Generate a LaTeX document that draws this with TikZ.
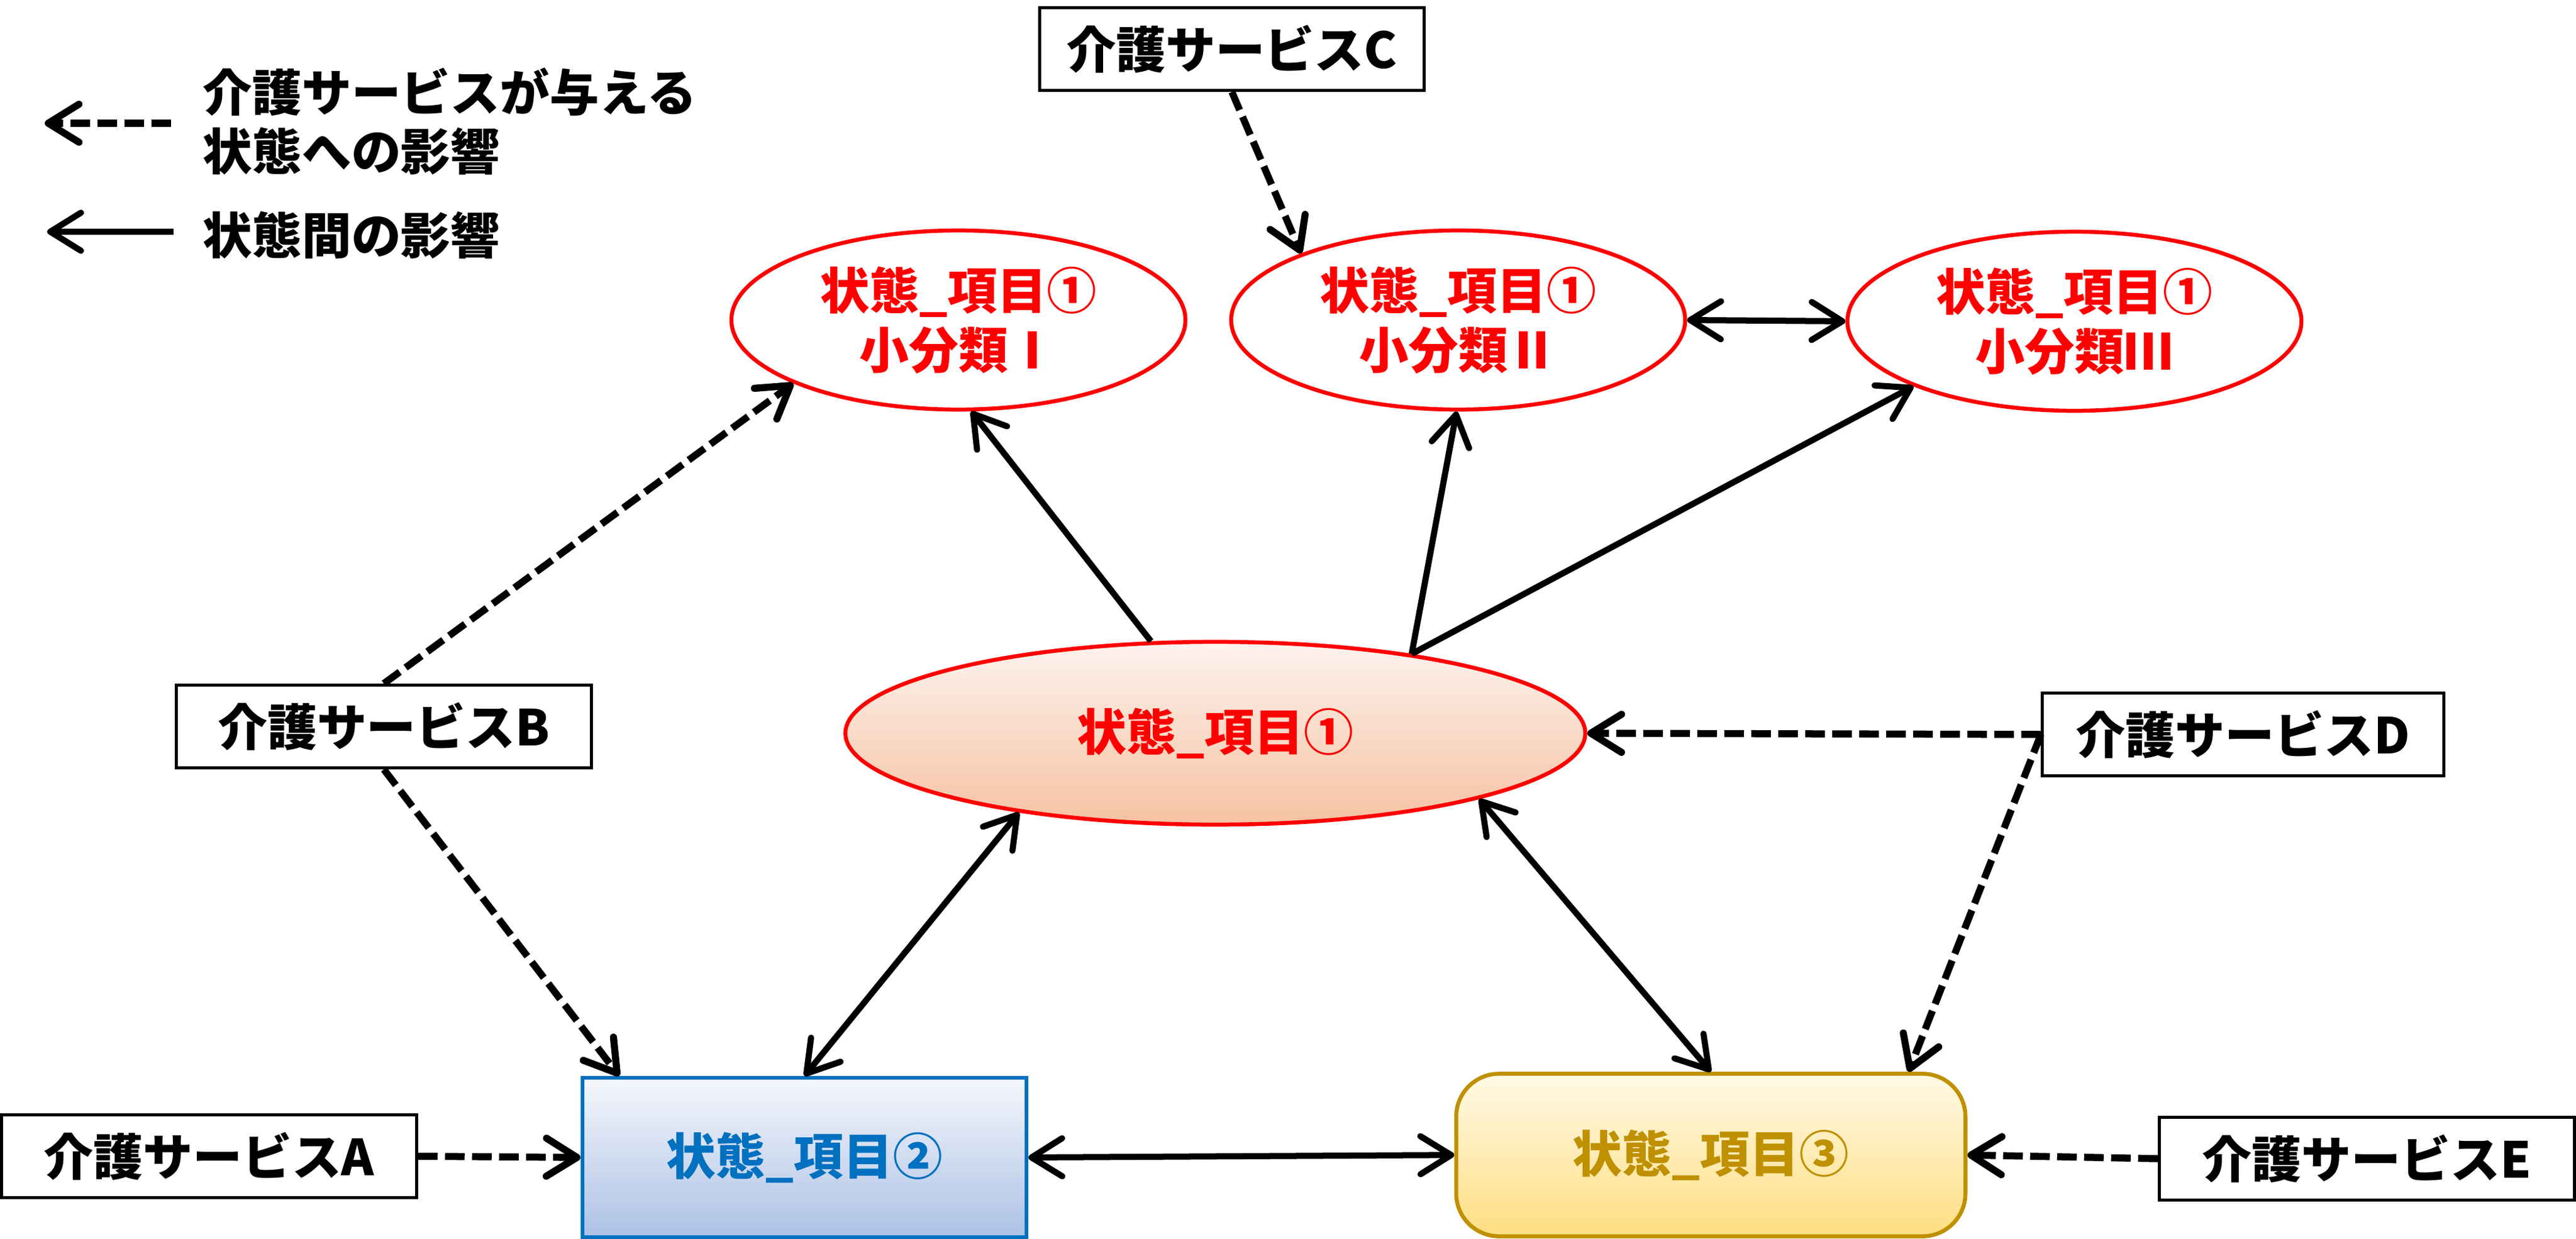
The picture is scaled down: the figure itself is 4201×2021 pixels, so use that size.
\documentclass[tikz,border=0pt]{standalone}
\usepackage{fontspec}
\setmainfont{Noto Sans CJK JP}
\usetikzlibrary{shapes.geometric,arrows.meta}
\definecolor{jred}{HTML}{FF0000}
\definecolor{jblue}{HTML}{0070C0}
\definecolor{jgold}{HTML}{BF9000}

\begin{document}
\begin{tikzpicture}[x=0.01cm, y=-0.01cm,
    font=\fontsize{23}{27.5}\selectfont\bfseries,
    svc/.style={draw, line width=0.05cm, minimum height=1.35cm, inner sep=0pt},
    sub/.style={ellipse, draw=jred, line width=0.065cm, text=jred, align=center,
        minimum width=7.4cm, minimum height=2.92cm, inner sep=0pt},
    tip/.tip={Straight Barb[length=0.5cm, width=0.62cm, round]},
    arr/.style={line width=0.1cm, -tip},
    biarr/.style={line width=0.1cm, tip-tip},
    svcarr/.style={arr, line width=0.115cm, dash pattern=on 0.32cm off 0.12cm}]
\useasboundingbox (0,0) rectangle (4201,2021);

\coordinate (lg1a) at (279,201);
\coordinate (lg1b) at (73,201);
\coordinate (lg2a) at (283,378);
\coordinate (lg2b) at (77,378);
\node [anchor=west, align=left] (lgtxt1) at (318,198) {介護サービスが与える\\状態への影響};
\node [anchor=west] (lgtxt2) at (318,384) {状態間の影響};
\draw [svcarr] (lg1a) -- (lg1b);
\draw [arr] (lg2a) -- (lg2b);

\node [sub] (e1) at (1563,522) {状態\_項目①\\小分類Ⅰ};
\node [sub] (e2) at (2378,522) {状態\_項目①\\小分類Ⅱ};
\node [sub] (e3) at (3383,524) {状態\_項目①\\小分類Ⅲ};

\node [ellipse, draw=jred, line width=0.065cm, text=jred, inner sep=0pt,
    minimum width=12.06cm, minimum height=2.98cm,
    top color={rgb,255:red,253;green,243;blue,238}, bottom color={rgb,255:red,246;green,194;blue,162}]
    (c) at (1982,1196) {状態\_項目①};

\node [draw=jblue, line width=0.06cm, text=jblue, minimum width=7.24cm, minimum height=2.6cm,
    top color={rgb,255:red,245;green,247;blue,252}, bottom color={rgb,255:red,172;green,193;blue,229}]
    (b2) at (1312,1888) {状態\_項目②};
\node [draw=jgold, line width=0.065cm, text=jgold, rounded corners=0.7cm,
    minimum width=8.3cm, minimum height=2.65cm,
    top color={rgb,255:red,255;green,249;blue,230}, bottom color={rgb,255:red,255;green,222;blue,130}]
    (b3) at (2790,1884) {状態\_項目③};

\node [svc, minimum width=6.76cm] (sA) at (341,1886) {介護サービスA};
\node [svc, minimum width=6.76cm] (sB) at (626,1185) {介護サービスB};
\node [svc, minimum width=6.26cm] (sC) at (2009,80) {介護サービスC};
\node [svc, minimum width=6.54cm] (sD) at (3658,1198) {介護サービスD};
\node [svc, minimum width=6.77cm] (sE) at (3860,1890) {介護サービスE};

\draw [arr] (c.125) -- (e1.278);
\draw [arr] (c.22) -- (e2.269);
\draw [arr] (c.22) -- (e3.202);
\draw [biarr] (e2.east) -- (e3.west);
\draw [biarr] (c.202) -- (b2.north);
\draw [biarr] (c.346) -- (b3.north);
\draw [biarr] (b2.east) -- (b3.west);

\draw [svcarr] (sC.south) -- (e2.157);
\draw [svcarr] (sB.north) -- (e1.201);
\draw [svcarr] (sB.south) -- ([xshift=0.63cm]b2.north west);
\draw [svcarr] (sD.west) -- (c.east);
\draw [svcarr] (sD.west) -- ([xshift=-0.96cm]b3.north east);
\draw [svcarr] (sA.east) -- (b2.west);
\draw [svcarr] (sE.west) -- (b3.east);

\end{tikzpicture}
\end{document}
